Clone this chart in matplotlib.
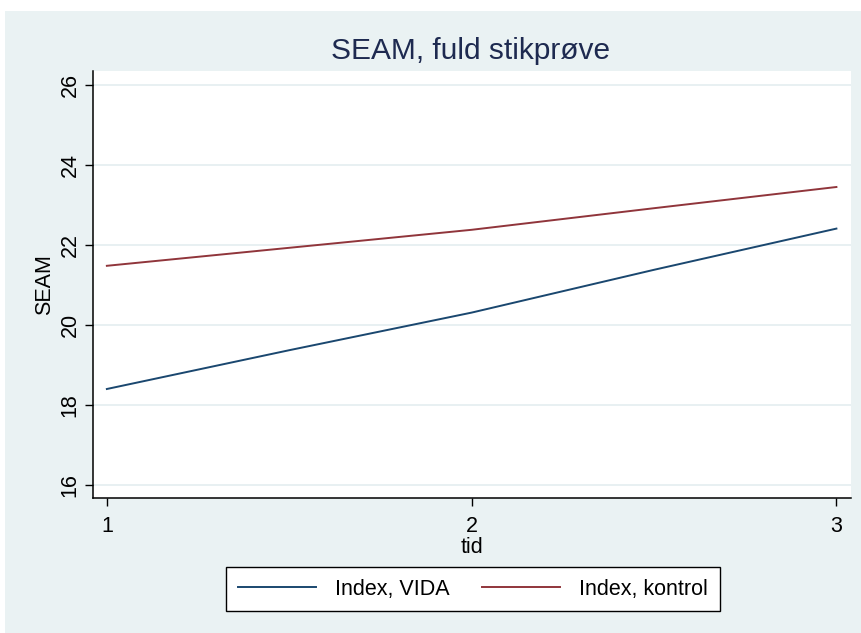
import matplotlib
matplotlib.use("Agg")
import matplotlib.pyplot as plt
from matplotlib.patches import Rectangle

plt.rcParams['font.family'] = ['Liberation Sans', 'DejaVu Sans']

tid = [1, 1.5, 2, 2.5, 3]
vida = [18.40, 19.37, 20.31, 21.38, 22.41]
kontrol = [21.48, 21.93, 22.38, 22.92, 23.45]
yticks = [16, 18, 20, 22, 24, 26]
xticks = [1, 2, 3]

bg = '#EAF2F3'
navy = '#1A476F'
maroon = '#90353B'

fig = plt.figure(figsize=(8.62, 6.33), dpi=100)
fig.patch.set_facecolor('white')
fig.patches.append(Rectangle((5/862, 0), 1 - 5/862, 1 - 11/633, transform=fig.transFigure,
                             facecolor=bg, edgecolor='none', zorder=-10))

ax = fig.add_axes([93/862, 1 - 498/633, (851 - 93)/862, (498 - 71)/633])
ax.set_facecolor('white')
ax.plot(tid, vida, color=navy, lw=1.4, label='Index, VIDA')
ax.plot(tid, kontrol, color=maroon, lw=1.4, label='Index, kontrol')

ax.set_xlim(0.962, 3.04)
ax.set_ylim(15.675, 26.35)
ax.set_yticks(yticks)
ax.set_xticks(xticks)
ax.set_yticklabels([str(v) for v in yticks], rotation=90, va='center', fontsize=15.5)
ax.set_xticklabels([str(v) for v in xticks], fontsize=15.5)
ax.tick_params(axis='y', direction='out', length=6, width=1, color='black', pad=3)
ax.tick_params(axis='x', direction='out', length=6, width=1, color='black', pad=7)
ax.grid(axis='y', color='#E4EEF0', lw=1.2)
ax.set_axisbelow(True)
for s in ['top', 'right']:
    ax.spines[s].set_visible(False)
for s in ['left', 'bottom']:
    ax.spines[s].set_linewidth(1.1)

ax.set_ylabel('SEAM', fontsize=15.5, labelpad=3)
ax.set_xlabel('tid', fontsize=15.5, labelpad=0)
fig.text(471/862, 1 - 51/633, 'SEAM, fuld stikprøve', ha='center', va='center',
         fontsize=21.5, color='#1E2A50')

leg = fig.legend(loc='center', bbox_to_anchor=(473/862, 1 - 589/633), ncol=2,
                 fontsize=15.5, frameon=True, fancybox=False, edgecolor='black',
                 framealpha=1, facecolor='white',
                 handlelength=3.6, columnspacing=1.5, borderpad=0.55, handletextpad=0.9)
leg.get_frame().set_linewidth(1.0)

fig.savefig('out.png', dpi=100)
